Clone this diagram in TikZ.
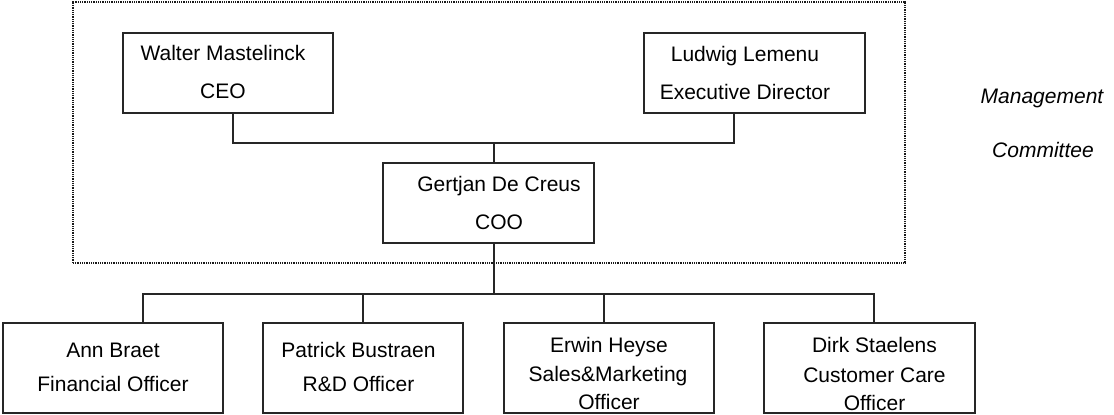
\documentclass[tikz,border=0pt]{standalone}
\usepackage{fontspec}
\setmainfont{Liberation Sans}
\begin{document}
\begin{tikzpicture}[x=1pt,y=-1pt,
  box/.style={draw=black!85, line width=1.3pt, rectangle, inner sep=0pt},
  txt/.style={inner sep=0pt, text height=15.1pt, text depth=0pt, anchor=center,
    font=\fontsize{21}{25}\selectfont},
  link/.style={draw=black!85, line width=1.3pt},
  committee/.style={draw=black!90, line width=1.6pt, dash pattern=on 1pt off 0.8pt,
    rectangle, inner sep=0pt}]
\useasboundingbox (0,0) rectangle (1114,415);

% management committee frame
\node[committee, minimum width=832pt, minimum height=261pt] (mc) at (489,132.5) {};
\node[txt, font=\fontsize{21}{25}\selectfont\itshape] (mcA) at (1042,96) {Management};
\node[txt, font=\fontsize{21}{25}\selectfont\itshape] (mcB) at (1043,149.5) {Committee};

% top level boxes
\node[box, minimum width=210pt, minimum height=80pt] (ceo) at (228,73) {};
\node[txt] (ceoA) at (223,53) {Walter Mastelinck};
\node[txt] (ceoB) at (223,91) {CEO};

\node[box, minimum width=221pt, minimum height=80pt] (exd) at (754.5,73) {};
\node[txt] (exdA) at (745,54) {Ludwig Lemenu};
\node[txt] (exdB) at (745,92) {Executive Director};

\node[box, minimum width=211pt, minimum height=80pt] (coo) at (488.5,203) {};
\node[txt] (cooA) at (499,184) {Gertjan De Creus};
\node[txt] (cooB) at (499,222) {COO};

% officers
\node[box, minimum width=220pt, minimum height=90pt] (fin) at (113,368) {};
\node[txt] (finA) at (113,350) {Ann Braet};
\node[txt] (finB) at (113,384) {Financial Officer};

\node[box, minimum width=200pt, minimum height=90pt] (rd) at (363,368) {};
\node[txt] (rdA) at (358.5,350) {Patrick Bustraen};
\node[txt] (rdB) at (358.5,384) {R\&D Officer};

\node[box, minimum width=210pt, minimum height=90pt] (sm) at (609,368) {};
\node[txt] (smA) at (609,345) {Erwin Heyse};
\node[txt] (smB) at (608,374) {Sales\&Marketing};
\node[txt] (smC) at (609,402) {Officer};

\node[box, minimum width=211pt, minimum height=90pt] (care) at (869.5,368) {};
\node[txt] (careA) at (874.5,345) {Dirk Staelens};
\node[txt] (careB) at (874.5,374.5) {Customer Care};
\node[txt] (careC) at (874.5,403) {Officer};

% connectors
\coordinate (mj) at (494,143);
\coordinate (sj) at (494,294);
\coordinate (ceoBot) at ([xshift=5pt]ceo.south);
\coordinate (exdBot) at ([xshift=-20.5pt]exd.south);
\coordinate (finTop) at ([xshift=30pt]fin.north);
\coordinate (rdTop) at (rd.north);
\coordinate (smTop) at ([xshift=-5pt]sm.north);
\coordinate (careTop) at ([xshift=4.5pt]care.north);

\draw[link] (ceoBot) |- (mj) -| (exdBot);
\draw[link] (mj) -- (mj |- coo.north);
\draw[link] (mj |- coo.south) -- (sj);
\draw[link] (finTop) |- (sj) -| (careTop);
\draw[link] (rdTop) -- (rdTop |- sj);
\draw[link] (smTop) -- (smTop |- sj);
\end{tikzpicture}
\end{document}
